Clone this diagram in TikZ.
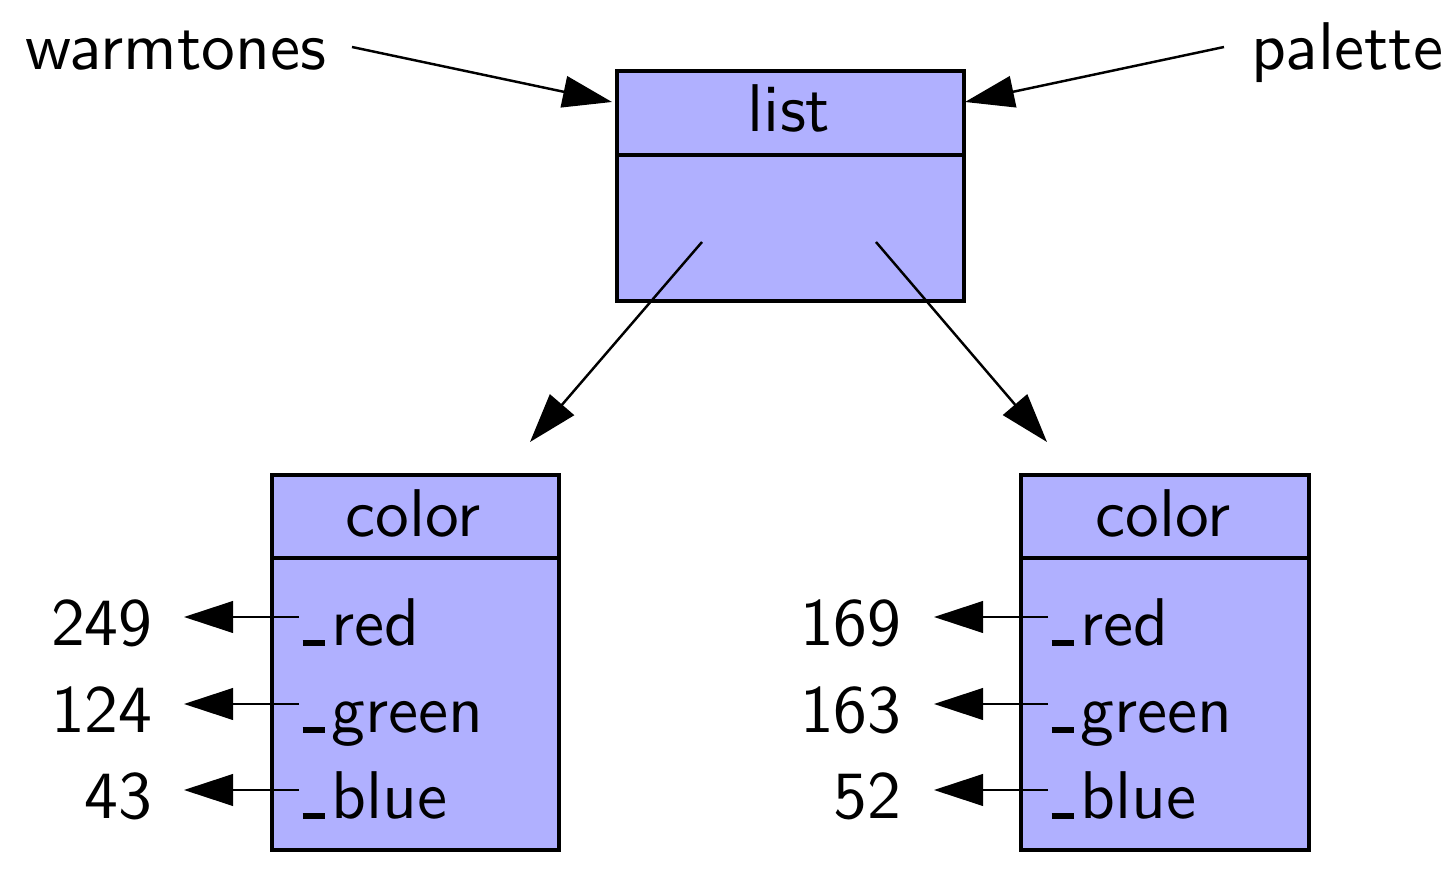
\documentclass[tikz,border=0pt]{standalone}
\usepackage{fontspec}
\setsansfont{lmsans10-regular.otf}
\usetikzlibrary{arrows.meta}
\definecolor{boxfill}{RGB}{176,176,255}
\newcommand\usc{\kern0.03em\rule{0.33em}{0.085em}\kern0.1em}
\begin{document}
\begin{tikzpicture}[x=0.01cm,y=-0.01cm,
  every node/.style={font=\sffamily\fontsize{19.2}{23}\selectfont, inner sep=0pt},
  boxnode/.style={draw=black, line width=1.05pt, fill=boxfill, anchor=north west, rectangle},
  arr/.style={line width=0.7pt, -{Triangle[length=14pt,width=9pt]}},
  divider/.style={line width=1.05pt}]
\useasboundingbox (0,0) rectangle (1450,876);
% list box
\node[boxnode, minimum width=3.47cm, minimum height=2.30cm] (listbox) at (615,69) {};
\draw[divider] (615,155) -- (962,155);
\node (listt) at (789,108) {list};
% left color box
\node[boxnode, minimum width=2.87cm, minimum height=3.75cm] (cboxA) at (270,473) {};
\draw[divider] (270,558) -- (557,558);
\node (colA) at (413,513) {color};
% right color box
\node[boxnode, minimum width=2.88cm, minimum height=3.75cm] (cboxB) at (1019,473) {};
\draw[divider] (1019,558) -- (1307,558);
\node (colB) at (1163,513) {color};
% variable names
\node[anchor=base west] (wt) at (25,70) {warmtones};
\node[anchor=base east] (pal) at (1444,70) {palette};
\coordinate (wtS) at (352,47);
\coordinate (palS) at (1224,47);
\coordinate (listL) at (612,102);
\coordinate (listR) at (965,102);
\draw[arr] (wtS) -- (listL);
\draw[arr] (palS) -- (listR);
% list element arrows
\coordinate (e1) at (702,242);
\coordinate (e2) at (876,242);
\coordinate (t1) at (530,442);
\coordinate (t2) at (1047,442);
\draw[arr] (e1) -- (t1);
\draw[arr] (e2) -- (t2);
% fields left
\node[anchor=base west] (rA) at (300,646) {\usc red};
\node[anchor=base west] (gA) at (300,733) {\usc green};
\node[anchor=base west] (bA) at (300,819) {\usc blue};
\node[anchor=base east] (vrA) at (153,646) {249};
\node[anchor=base east] (vgA) at (153,733) {124};
\node[anchor=base east] (vbA) at (153,819) {43};
\coordinate (srA) at (299,617); \coordinate (erA) at (184,617);
\coordinate (sgA) at (299,704); \coordinate (egA) at (184,704);
\coordinate (sbA) at (299,790); \coordinate (ebA) at (184,790);
\draw[arr] (srA) -- (erA);
\draw[arr] (sgA) -- (egA);
\draw[arr] (sbA) -- (ebA);
% fields right
\node[anchor=base west] (rB) at (1049,646) {\usc red};
\node[anchor=base west] (gB) at (1049,733) {\usc green};
\node[anchor=base west] (bB) at (1049,819) {\usc blue};
\node[anchor=base east] (vrB) at (902,646) {169};
\node[anchor=base east] (vgB) at (902,733) {163};
\node[anchor=base east] (vbB) at (902,819) {52};
\coordinate (srB) at (1048,617); \coordinate (erB) at (934,617);
\coordinate (sgB) at (1048,704); \coordinate (egB) at (934,704);
\coordinate (sbB) at (1048,790); \coordinate (ebB) at (934,790);
\draw[arr] (srB) -- (erB);
\draw[arr] (sgB) -- (egB);
\draw[arr] (sbB) -- (ebB);
\end{tikzpicture}
\end{document}
